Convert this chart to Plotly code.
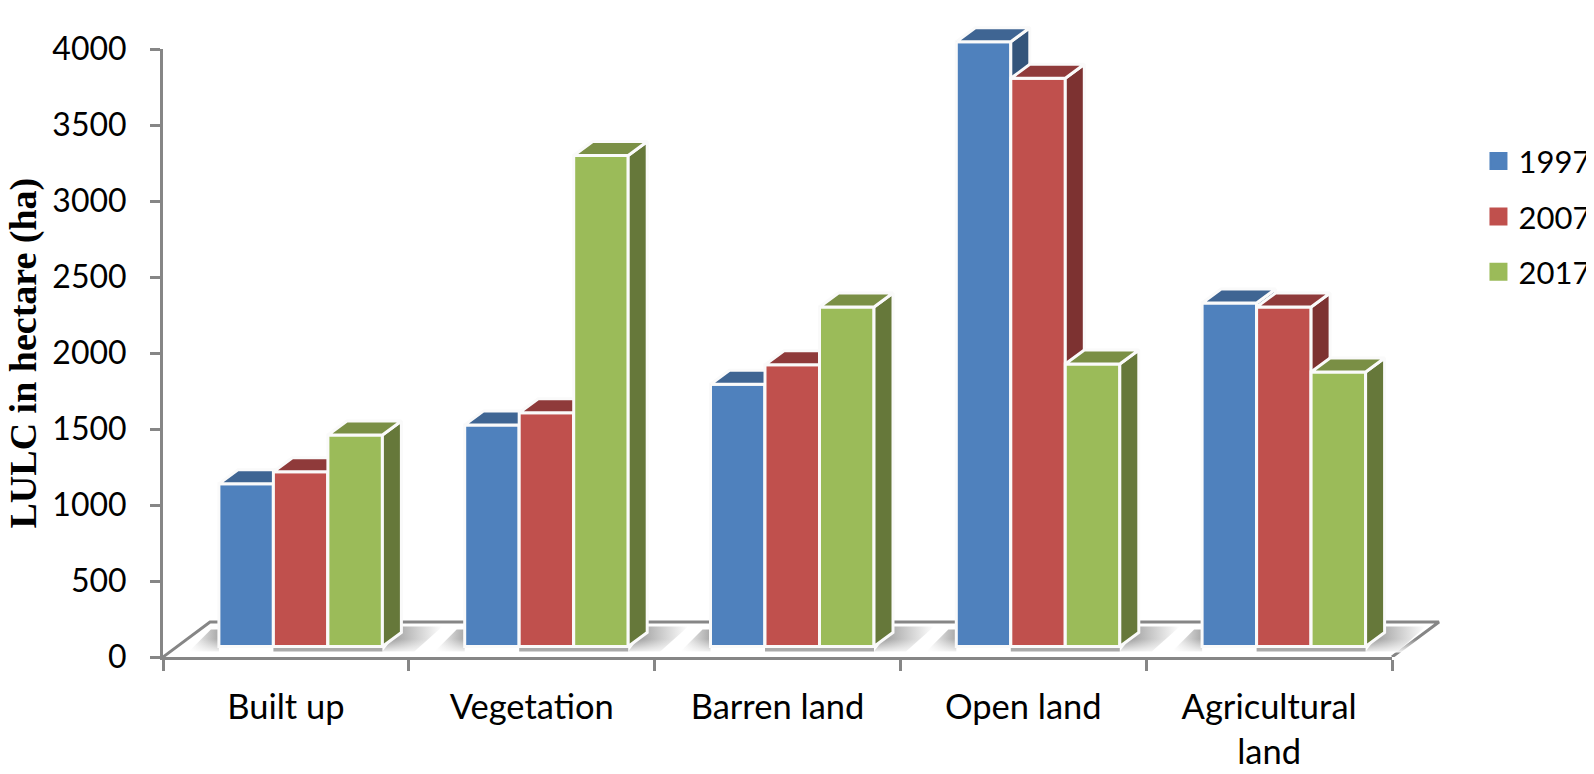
import plotly.graph_objects as go

# data
categories = ['Built up', 'Vegetation', 'Barren land', 'Open land', 'Agricultural<br>land']
years = ['1997', '2007', '2017']
v1997 = [1070, 1458, 1725, 3979, 2260]
v2007 = [1150, 1538, 1853, 3738, 2234]
v2017 = [1391, 3230, 2234, 1859, 1806]
y_ticks = [0, 500, 1000, 1500, 2000, 2500, 3000, 3500, 4000]

series = [v1997, v2007, v2017]
front_cols = ['#4f81bd', '#c0504d', '#9bbb59']
top_cols = ['#3f6593', '#8f3a3a', '#7a8f45']
side_cols = ['#34557b', '#7d3231', '#66783a']
GREY = '#868686'

# page is 1594x774, the body adds 8px on the left and top.
# The plot area is larger than the visible axes because traces get clipped to it:
# the 3D faces and the floor stick out past the 4000 tick and the last category.
W, H = 1594, 774
L, R, T, B = 155, 142, 6, 125
AREA_W, AREA_H = W - L - R, H - T - B
AXIS_W, AXIS_H = 1229, 608
d, e = AXIS_W / AREA_W, AXIS_H / AREA_H
PX = AXIS_W / 5
PY = AXIS_H / 4000
x_range = [-0.5, -0.5 + 5 / d]
y_range = [0, 4000 / e]

dx = 19 / PX      # bar depth
dy = 14 / PY
lift = 10.5 / PY  # bars stand on the middle of the floor
bar_w = 54.5 / PX
start = -67 / PX

fig = go.Figure()

# floor
fx, fy = 47 / PX, 35 / PY
fig.add_scatter(x=[-0.5, -0.5 + fx, 4.5 + fx, 4.5], y=[0, fy, fy, 0], mode='lines',
                line=dict(color=GREY, width=3), showlegend=False, hoverinfo='skip',
                xaxis='x2', yaxis='y2')

# soft shadows around each group
for i in range(len(categories)):
    x0 = i + start
    x1 = x0 + 3 * bar_w
    fig.add_scatter(x=[x0 - 30 / PX, x0, x0, x0 - 8 / PX],
                    y=[lift - 5 / PY, lift - 5 / PY, lift + 17 / PY, lift + 17 / PY],
                    mode='none', fill='toself', showlegend=False, hoverinfo='skip',
                    fillgradient=dict(type='horizontal', colorscale=[[0, '#ffffff'], [1, '#a8a8a8']]),
                    xaxis='x2', yaxis='y2')
    fig.add_scatter(x=[x1, x1 + 19 / PX, x1 + 60 / PX, x1 + 32 / PX],
                    y=[lift - 5 / PY, lift + 20 / PY, lift + 20 / PY, lift - 5 / PY],
                    mode='none', fill='toself', showlegend=False, hoverinfo='skip',
                    fillgradient=dict(type='horizontal', colorscale=[[0, '#8c8c8c'], [1, '#ffffff']]),
                    xaxis='x2', yaxis='y2')
    # the shadow fades out towards the front of the floor
    fig.add_scatter(x=[x0 - 32 / PX, x1 + 62 / PX, x1 + 62 / PX, x0 - 32 / PX],
                    y=[lift - 6 / PY, lift - 6 / PY, lift + 21 / PY, lift + 21 / PY],
                    mode='none', fill='toself', showlegend=False, hoverinfo='skip',
                    fillgradient=dict(type='vertical', colorscale=[[0, 'rgba(255,255,255,0.9)'],
                                                                   [0.5, 'rgba(255,255,255,0)'],
                                                                   [1, 'rgba(255,255,255,0)']]),
                    xaxis='x2', yaxis='y2')
    fig.add_scatter(x=[x0 + bar_w, x1, x1, x0 + bar_w],
                    y=[lift - 5 / PY, lift - 5 / PY, lift, lift],
                    mode='none', fill='toself', fillcolor='#aaaaaa', showlegend=False,
                    hoverinfo='skip', xaxis='x2', yaxis='y2')

fig.update_layout(xaxis2=dict(domain=[0, 1], range=x_range, visible=False, anchor='y2'),
                  yaxis2=dict(domain=[0, 1], range=y_range, visible=False, anchor='x2'))

# bars: front face as a bar, top and side as polygons built from the same values
# each series sits on its own overlaid axes so later series paint over earlier ones
for k, vals in enumerate(series):
    xa, ya = f'x{k + 3}', f'y{k + 3}'
    side_x, side_y, top_x, top_y = [], [], [], []
    for i, v in enumerate(vals):
        a = i + start + k * bar_w
        b = a + bar_w
        t = lift + v
        side_x += [b, b + dx, b + dx, b, b, None]
        side_y += [t, t + dy, lift + dy, lift, t, None]
        top_x += [a, a + dx, b + dx, b, a, None]
        top_y += [t, t + dy, t + dy, t, t, None]
    fig.add_bar(x=list(range(len(vals))), y=vals, base=lift, width=bar_w, offset=start + k * bar_w,
                marker=dict(color=front_cols[k], line=dict(color='#fafafa', width=3)),
                showlegend=False, name=years[k], xaxis=xa, yaxis=ya)
    fig.add_scatter(x=side_x, y=side_y, mode='lines', fill='toself', fillcolor=side_cols[k],
                    line=dict(color='#fafafa', width=3), showlegend=False,
                    hoverinfo='skip', xaxis=xa, yaxis=ya)
    fig.add_scatter(x=top_x, y=top_y, mode='lines', fill='toself', fillcolor=top_cols[k],
                    line=dict(color='#fafafa', width=3), showlegend=False,
                    hoverinfo='skip', xaxis=xa, yaxis=ya)
    # legend swatch, sits on the visible axes
    fig.add_scatter(x=[None], y=[None], mode='markers', name=years[k], legendgroup=years[k],
                    marker=dict(symbol='square', size=16, color=front_cols[k],
                                line=dict(color=front_cols[k], width=2)))
    fig.update_layout({
        f'xaxis{k + 3}': dict(overlaying='x2', range=x_range, visible=False, anchor=f'y{k + 3}'),
        f'yaxis{k + 3}': dict(overlaying='y2', range=y_range, visible=False, anchor=f'x{k + 3}'),
    })

fig.update_layout(
    width=W, height=H, autosize=False,
    margin=dict(l=L, r=R, t=T, b=B, autoexpand=False),
    paper_bgcolor='white', plot_bgcolor='rgba(0,0,0,0)',
    barmode='overlay',
    font=dict(family='Lato', size=30, color='black'),
    legend=dict(xref='container', yref='container', x=0.9225, y=0.8366, xanchor='left', yanchor='top',
                traceorder='grouped', tracegroupgap=12, font=dict(size=31),
                entrywidth=90, entrywidthmode='pixels', bgcolor='rgba(0,0,0,0)'),
    xaxis=dict(domain=[0, d], anchor='y', range=[-0.5, 4.5], tickmode='array', tickvals=list(range(5)),
               ticktext=categories, ticks='', ticklabelstandoff=18, showline=True, linecolor=GREY,
               linewidth=3, showgrid=False, zeroline=False, tickfont=dict(size=34.5),
               minor=dict(tickmode='array', tickvals=[-0.5, 0.5, 1.5, 2.5, 3.5, 4.5], ticks='outside',
                          ticklen=11, tickwidth=3, tickcolor=GREY, showgrid=False)),
    yaxis=dict(domain=[0, e], anchor='x', range=[0, 4000], tickmode='array', tickvals=y_ticks,
               ticks='outside', ticklen=10, tickwidth=3, tickcolor=GREY, showline=True, linecolor=GREY,
               linewidth=3, showgrid=False, zeroline=False, ticklabelstandoff=17, tickfont=dict(size=32)),
    # axis title as annotation, the real title won't go this far left
    annotations=[dict(text='<b>LULC in hectare (ha)</b>', textangle=-90, showarrow=False,
                      xref='paper', yref='paper', x=(14.5 - L) / AREA_W, y=e / 2,
                      xanchor='center', yanchor='middle',
                      font=dict(family='Liberation Serif', size=38))],
)

fig.write_html('out.html')
